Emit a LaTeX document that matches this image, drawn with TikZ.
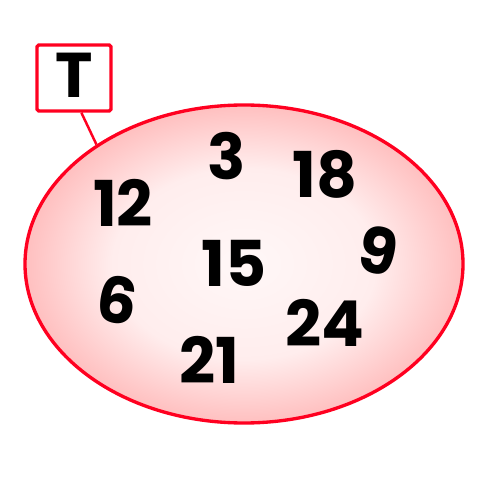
\documentclass[tikz,border=0pt]{standalone}
\usepackage{fontspec}
\setmainfont{Poppins}
\usepackage{tikz}
\usetikzlibrary{shapes.geometric}

\definecolor{setred}{RGB}{255,0,32}
\pgfdeclareradialshading{setshade}{\pgfpoint{0bp}{0bp}}{%
    color(0bp)=(red!3); color(15bp)=(red!7); color(25bp)=(red!25); color(50bp)=(red!25)}

\tikzset{
    num/.style={font=\fontsize{36}{40}\selectfont\bfseries, inner sep=0pt},
    setline/.style={draw=setred, line width=1.9pt}
}

\begin{document}
\begin{tikzpicture}

    \useasboundingbox (0,0) rectangle (10,-10);

    % Set shape
    \node[setline,
        ellipse,
        minimum width=8.76cm,
        minimum height=6.36cm,
        inner sep=0pt,
        shading=setshade
    ] (setT) at (4.88,-5.28){};

    % Label box
    \node[setline,
        fill=white,
        rounded corners=1pt,
        minimum width=1.48cm,
        minimum height=1.32cm
    ] (lbl) at (1.48,-1.56){};
    \node[num] (name) at (1.48,-1.51){T};

    \draw[setred, line width=1.4pt] (lbl.282) -- (setT.141);

    % Elements
    \node[num] (n3) at (4.54,-3.12){3};
    \node[num] (n18) at (6.50,-3.48){18};
    \node[num] (n12) at (2.46,-4.06){12};
    \node[num] (n15) at (4.68,-5.26){15};
    \node[num, rotate=-12] (n9) at (7.56,-5.02){9};
    \node[num, rotate=-10] (n6) at (2.34,-6.00){6};
    \node[num] (n24) at (6.50,-6.46){24};
    \node[num] (n21) at (4.18,-7.20){21};

\end{tikzpicture}
\end{document}
